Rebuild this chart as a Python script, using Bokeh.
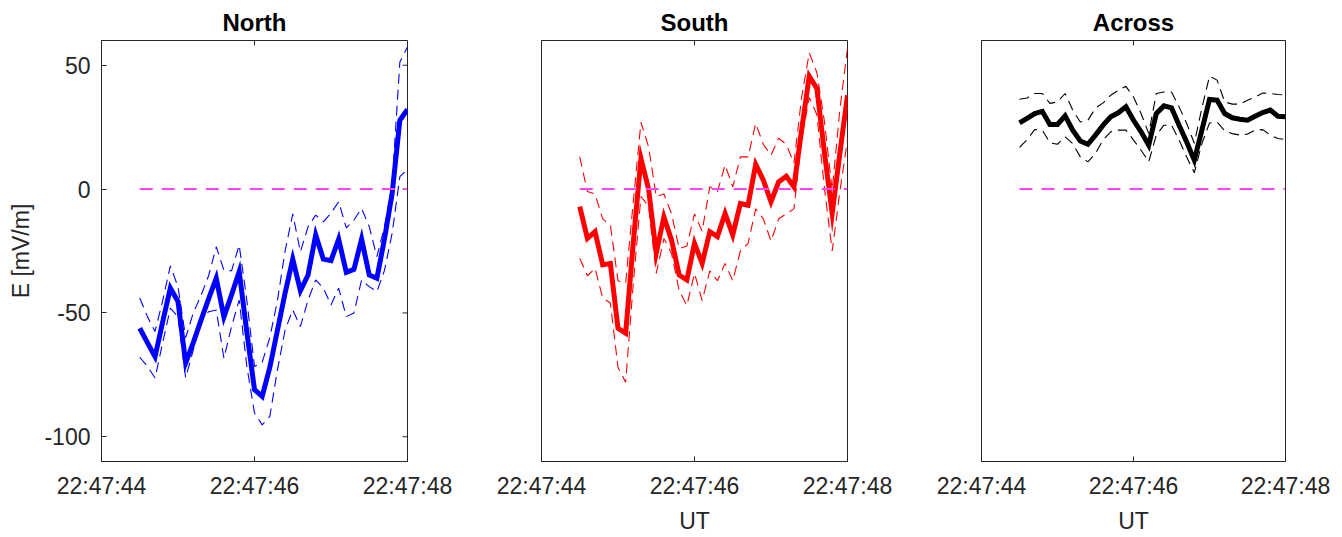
import math
from bokeh.plotting import figure
from bokeh.layouts import row
from bokeh.models import LinearAxis, FixedTicker, Range1d
from bokeh.embed import file_html
from bokeh.resources import INLINE

# ---- data (seconds after 22:47:00) ----
t = [44.5, 44.6, 44.7, 44.8, 44.9, 45.0, 45.1, 45.2, 45.3, 45.4, 45.5, 45.6,
     45.7, 45.8, 45.9, 46.0, 46.1, 46.2, 46.3, 46.4, 46.5, 46.6, 46.7, 46.8,
     46.9, 47.0, 47.1, 47.2, 47.3, 47.4, 47.5, 47.6, 47.7, 47.8, 47.9, 48.0]

north = [-56.2, -62.0, -67.7, -53.6, -40.0, -45.4, -70.2, -62.0, -53.0, -44.3, -36.0, -51.6,
         -42.7, -33.3, -57.8, -81.0, -83.7, -72.0, -57.0, -42.0, -28.3, -41.0, -34.7, -18.5,
         -28.3, -28.9, -20.2, -33.6, -32.4, -20.2, -34.7, -36.0, -20.0, -1.6, 27.8, 32.2]
north_hi = [-44.0, -51.5, -57.5, -45.0, -31.0, -39.4, -60.0, -50.0, -43.0, -35.0, -23.3, -32.7,
            -33.0, -22.6, -45.0, -71.6, -70.0, -60.0, -45.0, -25.0, -10.0, -25.3, -15.2, -10.5,
            -13.2, -9.7, -5.1, -15.7, -12.5, -7.8, -15.2, -27.3, -15.0, 2.3, 51.3, 57.4]
north_lo = [-67.9, -71.6, -76.3, -62.0, -48.1, -51.5, -76.2, -65.0, -52.8, -49.5, -48.8, -68.3,
            -55.5, -44.8, -71.6, -90.4, -95.2, -91.8, -73.0, -56.9, -48.8, -55.5, -44.8, -36.7,
            -40.0, -46.8, -40.0, -51.5, -50.0, -36.7, -39.4, -41.4, -32.7, -17.7, 5.0, 8.0]

south = [-7.1, -19.9, -17.2, -30.6, -30.0, -56.2, -58.2, -21.5, 12.4, 0.0, -25.8, -11.2,
         -20.6, -34.7, -36.7, -21.9, -30.0, -17.2, -19.2, -9.8, -18.5, -5.8, -6.5, 10.0,
         3.6, -5.1, 2.9, 5.2, 0.9, 23.8, 45.6, 40.6, 14.4, -9.8, 14.4, 37.9]
south_hi = [13.0, -1.0, -2.0, -12.0, -14.5, -37.0, -38.0, -5.0, 27.0, 17.0, -3.0, -2.0,
            -10.0, -24.0, -23.0, -10.0, -17.0, 1.0, -1.0, 9.7, 0.9, 13.0, 13.0, 26.5,
            18.0, 13.7, 20.6, 18.0, 10.5, 37.0, 55.0, 47.0, 27.0, -0.4, 32.0, 57.0]
south_lo = [-28.0, -35.0, -32.0, -44.0, -46.0, -72.0, -78.0, -38.0, -3.0, -7.0, -34.0, -20.0,
            -26.0, -41.0, -47.0, -34.0, -45.0, -33.0, -37.0, -30.0, -37.0, -25.0, -22.0, -8.0,
            -12.0, -21.0, -12.0, -10.0, -8.0, 20.0, 37.0, 30.0, 0.0, -25.0, -1.0, 20.0]

across = [26.7, 28.6, 30.5, 31.4, 26.1, 26.1, 29.6, 23.8, 19.4, 18.1, 21.8, 25.8,
          29.2, 30.8, 33.2, 27.8, 23.1, 17.7, 30.5, 33.6, 32.8, 25.8, 19.0, 11.7,
          23.8, 36.2, 35.9, 30.5, 28.8, 28.2, 27.8, 29.4, 30.9, 31.9, 29.4, 29.2]
across_hi = [36.3, 36.8, 38.6, 38.6, 34.6, 35.2, 38.6, 31.9, 27.1, 27.8, 32.7, 34.8,
             37.9, 39.9, 41.5, 37.2, 30.5, 22.4, 38.6, 39.2, 39.2, 33.2, 26.5, 18.5,
             32.7, 45.6, 44.0, 35.2, 34.3, 34.3, 35.9, 37.2, 38.8, 38.6, 38.2, 38.0]
across_lo = [16.8, 20.0, 24.0, 23.8, 18.7, 18.1, 21.1, 18.4, 13.0, 11.0, 14.4, 19.8,
             23.1, 23.8, 23.8, 19.8, 15.7, 11.0, 21.8, 25.8, 25.8, 19.8, 13.0, 6.6,
             18.4, 26.7, 27.1, 23.5, 22.4, 21.8, 22.2, 23.8, 24.0, 21.8, 20.4, 20.0]

zero_level = 0.0
x_ticks = [44, 46, 48]
x_tick_labels = ["22:47:44", "22:47:46", "22:47:48"]
y_ticks = [-100, -50, 0, 50]
y_tick_labels = ["-100", "-50", "0", "50"]
titles = ["North", "South", "Across"]

FONT = "Liberation Sans"
TXT = "#262626"
TICK_PX = "23px"
X0, X1 = 44, 48
Y0, Y1 = -110, 60


def style_axis(ax):
    ax.axis_line_color = TXT
    ax.axis_line_width = 1
    ax.major_tick_line_color = TXT
    ax.major_tick_in = 5
    ax.major_tick_out = 0
    ax.minor_tick_line_color = None
    ax.major_label_text_font = FONT
    ax.major_label_text_color = TXT
    ax.major_label_text_font_size = TICK_PX
    ax.axis_label_text_font = FONT
    ax.axis_label_text_color = TXT
    ax.axis_label_text_font_style = "normal"
    ax.axis_label_text_font_size = TICK_PX


def make(title, mid, lo, hi, color, width, left, right, show_y, xlabel):
    p = figure(width=width, height=537, x_range=Range1d(X0, X1), y_range=Range1d(Y0, Y1),
               output_backend="svg", toolbar_location=None,
               x_axis_type=None, y_axis_type=None,
               min_border_left=left, min_border_right=right,
               min_border_top=40, min_border_bottom=76)
    p.background_fill_color = "white"
    p.border_fill_color = "white"
    p.outline_line_color = TXT
    p.outline_line_width = 1
    p.title.text = title
    p.title.align = "center"
    p.title.text_font = FONT
    p.title.text_font_style = "bold"
    p.title.text_font_size = "24px"
    p.title.text_color = "black"

    overrides = {k: v for k, v in zip(x_ticks, x_tick_labels)}
    bottom = LinearAxis(ticker=FixedTicker(ticks=x_ticks, minor_ticks=[]),
                        major_label_overrides=overrides)
    style_axis(bottom)
    bottom.major_label_standoff = 11
    if xlabel:
        bottom.axis_label = xlabel
        bottom.axis_label_standoff = 6
    p.add_layout(bottom, "below")

    # mirrored tick marks on the top edge (MATLAB box style)
    p.scatter(x_ticks, [Y1] * len(x_ticks), marker="dash", size=10, angle=math.pi / 2,
              line_color=TXT, line_width=1)

    if show_y:
        yover = {k: v for k, v in zip(y_ticks, y_tick_labels)}
        leftax = LinearAxis(ticker=FixedTicker(ticks=y_ticks, minor_ticks=[]),
                            major_label_overrides=yover, axis_label="E [mV/m]")
        style_axis(leftax)
        leftax.major_label_standoff = 11
        leftax.axis_label_standoff = 7
        p.add_layout(leftax, "left")
        p.scatter([X1] * len(y_ticks), y_ticks, marker="dash", size=10,
                  line_color=TXT, line_width=1)

    p.xgrid.visible = False
    p.ygrid.visible = False

    p.line(t, hi, line_color=color, line_width=1.1, line_dash="10 6")
    p.line(t, lo, line_color=color, line_width=1.1, line_dash="10 6")
    p.line(t, mid, line_color=color, line_width=5, line_join="miter")
    p.line(t, [zero_level] * len(t), line_color="#ff44ff", line_width=2, line_dash="13 9")
    return p


p1 = make(titles[0], north, north_lo, north_hi, "#0000ff", 470, 101, 63, True, None)
p2 = make(titles[1], south, south_lo, south_hi, "#ff0000", 440, 71, 63, False, "UT")
p3 = make(titles[2], across, across_lo, across_hi, "#000000", 432, 71, 57, False, "UT")

layout = row(p1, p2, p3, spacing=0)
open("out.html", "w").write(file_html(layout, INLINE))
